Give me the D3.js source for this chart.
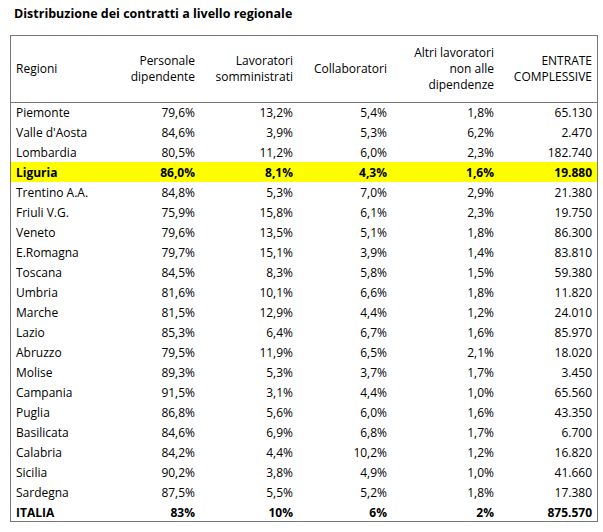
<!DOCTYPE html>
<html>
<head>
<meta charset="utf-8">
<script src="https://d3js.org/d3.v7.min.js"></script>
<style>
  body { margin: 0; background: #fff; }
  text { font-family: "Open Sans", sans-serif; font-size: 12px; fill: #000; }
</style>
</head>
<body>
<svg id="chart" width="603" height="532"></svg>
<script>
var title = "Distribuzione dei contratti a livello regionale";
var headers = [["Regioni"], ["Personale", "dipendente"], ["Lavoratori", "somministrati"],
               ["Collaboratori"], ["Altri lavoratori", "non alle", "dipendenze"], ["ENTRATE", "COMPLESSIVE"]];
var regioni = ["Piemonte", "Valle d'Aosta", "Lombardia", "Liguria", "Trentino A.A.", "Friuli V.G.",
  "Veneto", "E.Romagna", "Toscana", "Umbria", "Marche", "Lazio", "Abruzzo", "Molise", "Campania",
  "Puglia", "Basilicata", "Calabria", "Sicilia", "Sardegna", "ITALIA"];
var personale = ["79,6%","84,6%","80,5%","86,0%","84,8%","75,9%","79,6%","79,7%","84,5%","81,6%","81,5%",
  "85,3%","79,5%","89,3%","91,5%","86,8%","84,6%","84,2%","90,2%","87,5%","83%"];
var somministrati = ["13,2%","3,9%","11,2%","8,1%","5,3%","15,8%","13,5%","15,1%","8,3%","10,1%","12,9%",
  "6,4%","11,9%","5,3%","3,1%","5,6%","6,9%","4,4%","3,8%","5,5%","10%"];
var collaboratori = ["5,4%","5,3%","6,0%","4,3%","7,0%","6,1%","5,1%","3,9%","5,8%","6,6%","4,4%",
  "6,7%","6,5%","3,7%","4,4%","6,0%","6,8%","10,2%","4,9%","5,2%","6%"];
var altri = ["1,8%","6,2%","2,3%","1,6%","2,9%","2,3%","1,8%","1,4%","1,5%","1,8%","1,2%",
  "1,6%","2,1%","1,7%","1,0%","1,6%","1,7%","1,2%","1,0%","1,8%","2%"];
var entrate = ["65.130","2.470","182.740","19.880","21.380","19.750","86.300","83.810","59.380","11.820","24.010",
  "85.970","18.020","3.450","65.560","43.350","6.700","16.820","41.660","17.380","875.570"];
var highlight = "Liguria", totale = "ITALIA";

var svg = d3.select("#chart");
var tLeft = 10, tRight = 598, tTop = 35, headH = 67, rowH = 20;
var colRight = [0, 195, 293, 387, 494, 592];
var y = d3.scaleBand().domain(regioni).range([tTop + headH, tTop + headH + rowH * regioni.length]);

svg.append("text").attr("x", 14).attr("y", 18).style("font-weight", "bold").style("font-size", "12.5px").text(title);

// highlight row
svg.append("rect").attr("x", tLeft).attr("y", y(highlight)).attr("width", tRight - tLeft)
  .attr("height", y.bandwidth()).attr("fill", "#ffff00");

// borders
svg.append("rect").attr("x", tLeft + 0.5).attr("y", tTop + 0.5).attr("width", tRight - tLeft - 1)
  .attr("height", headH + rowH * regioni.length - 1).attr("fill", "none").attr("stroke", "#777");
svg.append("line").attr("x1", tLeft).attr("x2", tRight).attr("y1", tTop + headH + 0.5).attr("y2", tTop + headH + 0.5)
  .attr("stroke", "#777");

// header
headers.forEach(function(lines, c) {
  var n = lines.length, mid = tTop + headH / 2 + 4;
  lines.forEach(function(l, i) {
    svg.append("text")
      .attr("x", c === 0 ? 16 : colRight[c])
      .attr("y", mid + (i - (n - 1) / 2) * 16)
      .attr("text-anchor", c === 0 ? "start" : "end")
      .text(l);
  });
});

var cols = [personale, somministrati, collaboratori, altri, entrate];
regioni.forEach(function(r, i) {
  var g = svg.append("g").style("font-weight", (r === highlight || r === totale) ? "bold" : "normal");
  var yy = y(r) + 15;
  g.append("text").attr("x", 16).attr("y", yy).text(r);
  cols.forEach(function(col, c) {
    g.append("text").attr("x", colRight[c + 1]).attr("y", yy).attr("text-anchor", "end").text(col[i]);
  });
});
</script>
</body>
</html>
